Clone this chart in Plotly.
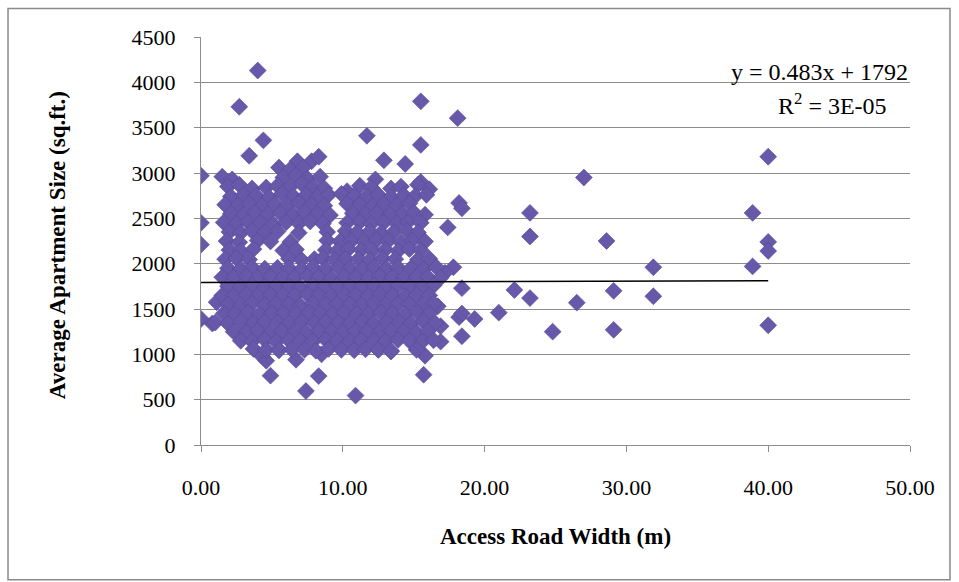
import plotly.graph_objects as go

# ---------------- data ----------------
road_width = [
    # high outliers
    4.0, 2.7, 15.5, 18.1, 4.4, 3.4, 11.7, 15.5, 12.9, 14.4, 5.5, 6.8, 7.8, 8.3,
    # x = 0 and far left
    0.0, 0.0, 0.0, 0.0, 1.1, 0.8,
    # far right
    40.0, 27.0, 23.2, 23.2, 38.9, 28.6, 40.0, 40.0, 38.9, 31.9,
    22.1, 23.2, 29.1, 31.9, 26.5, 21.0, 24.8, 29.1, 40.0,
    # right edge of the cluster
    18.2, 18.4, 17.4, 17.8, 17.2, 18.4, 19.3, 18.2, 18.4, 16.9, 16.7, 16.9, 18.4, 15.2,
    # low outliers
    4.9, 7.4, 8.3, 10.9, 15.7, 4.3, 6.7, 8.5, 10.6, 12.5, 13.4, 15.8, 4.6, 5.5,
    # dense cluster, by band
    6.3, 7.2,
    1.5, 2.2, 5.8, 6.7, 7.5, 8.4, 12.3, 15.5,
    1.9, 2.7, 3.6, 4.6, 5.4, 6.3, 7.1, 7.9, 8.7, 10.3, 11.2, 12.0, 13.4, 14.1, 15.3, 16.1,
    2.1, 3.0, 3.9, 4.8, 5.7, 6.5, 7.4, 8.2, 9.0, 9.9, 10.8, 11.7, 12.5, 13.4, 14.3, 15.1, 15.9,
    1.7, 2.6, 3.4, 4.3, 5.2, 6.1, 6.9, 7.8, 8.7, 10.3, 11.2, 12.1, 12.9, 13.8, 14.7,
    2.1, 3.0, 3.8, 4.7, 5.6, 6.5, 7.3, 8.2, 9.1, 10.7, 11.6, 12.4, 13.3, 14.2, 15.0, 15.8,
    1.6, 2.5, 3.3, 4.2, 5.1, 6.0, 6.9, 7.7, 8.6, 10.3, 11.2, 12.0, 12.9, 13.8, 14.6, 15.5,
    2.0, 2.8, 3.6, 4.5, 5.4, 6.9, 8.9, 10.2, 11.0, 11.9, 12.7, 13.6, 14.5, 15.3,
    1.8, 2.7, 4.0, 4.9, 6.3, 8.9, 9.8, 10.6, 11.5, 12.4, 13.2, 14.1, 14.9, 15.8,
    2.0, 2.8, 3.7, 5.8, 6.7, 8.8, 9.6, 10.4, 11.3, 12.1, 13.0, 13.9, 14.7, 15.5,
    1.7, 2.5, 3.4, 6.2, 7.1, 8.0, 8.6, 9.4, 10.2, 11.1, 11.9, 12.8, 13.7, 15.3, 16.1,
    1.9, 2.8, 3.6, 4.5, 5.4, 6.2, 7.1, 7.9, 8.8, 9.7, 10.5, 11.4, 12.2, 13.1, 13.9, 14.8, 15.7, 16.6,
    1.5, 2.3, 3.2, 4.0, 4.9, 5.8, 6.6, 7.5, 8.3, 9.2, 10.1, 10.9, 11.8, 12.6, 13.5, 14.3, 15.2, 16.0, 16.9,
    1.9, 2.8, 3.6, 4.5, 5.3, 6.2, 7.0, 7.9, 8.7, 9.6, 10.5, 11.3, 12.2, 13.0, 13.9, 14.7, 15.6, 16.4,
    1.5, 2.3, 3.2, 4.0, 4.9, 5.8, 6.6, 7.5, 8.3, 9.2, 10.1, 10.9, 11.8, 12.6, 13.5, 14.4, 15.2, 16.1,
    1.9, 2.8, 3.6, 4.5, 5.3, 6.2, 7.0, 7.9, 8.8, 9.6, 10.5, 11.3, 12.2, 13.0, 13.9, 14.7, 15.6, 16.4,
    1.6, 2.4, 3.3, 4.1, 5.0, 5.8, 6.7, 7.6, 8.4, 9.3, 10.1, 11.0, 11.8, 12.7, 13.5, 14.4, 15.3, 16.1,
    1.0, 1.9, 2.8, 3.7, 4.5, 5.4, 6.2, 7.1, 8.0, 8.8, 9.7, 10.5, 11.4, 12.2, 13.1, 14.0, 14.8, 15.7, 16.5,
    2.3, 3.2, 4.0, 4.9, 5.7, 6.6, 7.4, 8.3, 9.2, 10.0, 10.9, 11.7, 12.6, 13.4, 14.3, 15.2, 16.0,
    2.8, 3.6, 4.5, 5.3, 6.2, 7.0, 7.9, 8.8, 9.6, 10.5, 11.3, 12.2, 13.0, 13.9, 14.7, 15.6, 16.4,
    3.7, 4.6, 5.5, 6.4, 7.3, 8.1, 9.0, 9.9, 10.8, 11.6, 12.5, 13.4, 15.2,
]

apt_size = [
    4130, 3730, 3790, 3605, 3360, 3190, 3410, 3310, 3140, 3100, 3060, 3130, 3130, 3180,
    2970, 2450, 2210, 1390, 1575, 1340,
    3180, 2950, 2560, 2300, 2560, 2250, 2240, 2140, 1970, 1960,
    1710, 1620, 1700, 1640, 1570, 1460, 1250, 1270, 1320,
    2670, 2610, 2400, 1960, 1900, 1730, 1390, 1410, 1200, 1140, 1530, 1310, 1450, 1690,
    765, 595, 760, 545, 775, 980, 940, 1000, 1100, 1050, 1030, 985, 930, 1050,
    3040, 3060,
    2960, 2930, 2950, 2975, 2940, 2960, 2930, 2900,
    2850, 2870, 2830, 2840, 2860, 2850, 2880, 2845, 2830, 2800, 2860, 2840, 2830, 2850, 2870, 2820,
    2740, 2760, 2750, 2730, 2770, 2745, 2755, 2735, 2760, 2770, 2750, 2740, 2760, 2735, 2755, 2745, 2760,
    2650, 2640, 2660, 2635, 2655, 2645, 2670, 2650, 2640, 2660, 2650, 2635, 2655, 2645, 2665,
    2550, 2535, 2560, 2545, 2555, 2540, 2565, 2550, 2535, 2555, 2545, 2560, 2540, 2550, 2565, 2540,
    2455, 2440, 2460, 2450, 2435, 2455, 2445, 2465, 2440, 2450, 2460, 2440, 2455, 2445, 2460, 2450,
    2350, 2340, 2360, 2345, 2355, 2340, 2350, 2360, 2345, 2355, 2340, 2350, 2365, 2345,
    2250, 2235, 2255, 2245, 2240, 2255, 2245, 2250, 2240, 2260, 2250, 2235, 2255, 2245,
    2150, 2140, 2160, 2145, 2155, 2150, 2140, 2160, 2150, 2145, 2155, 2140, 2160, 2150,
    2050, 2060, 2045, 2055, 2040, 2050, 2060, 2045, 2055, 2050, 2040, 2060, 2050, 2045, 2055,
    1950, 1940, 1960, 1945, 1955, 1950, 1940, 1960, 1945, 1955, 1950, 1940, 1960, 1945, 1955, 1950, 1940, 1960,
    1850, 1845, 1860, 1840, 1855, 1850, 1845, 1860, 1850, 1840, 1855, 1850, 1845, 1860, 1850, 1840, 1855, 1850, 1845,
    1750, 1740, 1760, 1745, 1755, 1750, 1740, 1760, 1745, 1755, 1750, 1740, 1760, 1745, 1755, 1750, 1740, 1760,
    1650, 1645, 1660, 1640, 1655, 1650, 1645, 1660, 1650, 1640, 1655, 1650, 1645, 1660, 1650, 1640, 1655, 1650,
    1550, 1540, 1560, 1545, 1555, 1550, 1540, 1560, 1545, 1555, 1550, 1540, 1560, 1545, 1555, 1550, 1540, 1560,
    1450, 1445, 1460, 1440, 1455, 1450, 1445, 1460, 1450, 1440, 1455, 1450, 1445, 1460, 1450, 1440, 1455, 1450,
    1350, 1340, 1360, 1345, 1355, 1350, 1340, 1360, 1345, 1355, 1350, 1340, 1360, 1345, 1355, 1350, 1340, 1360, 1345,
    1250, 1245, 1260, 1240, 1255, 1250, 1245, 1260, 1250, 1240, 1255, 1250, 1245, 1260, 1250, 1240, 1255,
    1150, 1145, 1160, 1140, 1155, 1150, 1145, 1160, 1150, 1140, 1155, 1150, 1145, 1160, 1150, 1140, 1155,
    1060, 1050, 1045, 1055, 1050, 1040, 1060, 1050, 1045, 1055, 1050, 1040, 1050,
]

trend_slope = 0.483
trend_intercept = 1792
trend_x = [0.0, 40.0]

x_ticks = [0, 10, 20, 30, 40, 50]
y_ticks = [0, 500, 1000, 1500, 2000, 2500, 3000, 3500, 4000, 4500]

assert len(road_width) == len(apt_size), (len(road_width), len(apt_size))

# ---------------- figure ----------------
FONT = "Liberation Serif, Times New Roman, serif"
GRID = "#8c8c8c"
MARK = "rgb(104,88,170)"

fig = go.Figure()
fig.add_trace(go.Scatter(
    x=road_width, y=apt_size, mode="markers",
    marker=dict(symbol="diamond", size=13, color=MARK,
                line=dict(width=0.6, color="rgb(86,72,150)")),
    showlegend=False, hoverinfo="x+y",
))
fig.add_trace(go.Scatter(
    x=trend_x, y=[trend_slope * v + trend_intercept for v in trend_x],
    mode="lines", line=dict(color="black", width=1.5),
    showlegend=False, hoverinfo="skip",
))

fig.update_layout(
    width=959, height=582,
    margin=dict(l=201, r=49, t=37, b=137),
    paper_bgcolor="white", plot_bgcolor="white",
    font=dict(family=FONT, color="black", size=22),
    xaxis=dict(
        range=[0, 50], tickvals=x_ticks, tickformat=".2f",
        showgrid=False, zeroline=False,
        showline=True, linecolor=GRID, linewidth=1,
        ticks="outside", ticklen=6, tickcolor=GRID,
        tickfont=dict(family=FONT, size=22, color="black"),
        ticklabelstandoff=17,
    ),
    yaxis=dict(
        range=[0, 4500], tickvals=y_ticks,
        showgrid=True, gridcolor=GRID, gridwidth=1, zeroline=False,
        showline=True, linecolor=GRID, linewidth=1,
        ticks="outside", ticklen=6, tickcolor=GRID,
        tickfont=dict(family=FONT, size=22, color="black"),
        ticklabelstandoff=14,
    ),
    shapes=[dict(type="rect", xref="paper", yref="paper",
                 x0=-0.2722, x1=1.0564, y0=-0.330, y1=1.0696,
                 line=dict(color="#8a8a8a", width=1.5), layer="below")],
    annotations=[
        dict(text="<b>Average Apartment Size (sq.ft.)</b>", xref="paper", yref="paper",
             x=-0.203, y=0.49, textangle=-90, showarrow=False,
             font=dict(family=FONT, size=23, color="black"),
             xanchor="center", yanchor="middle"),
        dict(text="<b>Access Road Width (m)</b>", xref="paper", yref="paper",
             x=0.5007, y=-0.2245, showarrow=False,
             font=dict(family=FONT, size=23, color="black"),
             xanchor="center", yanchor="middle"),
        dict(text="y = 0.483x + 1792", xref="paper", yref="paper",
             x=0.873, y=0.913, showarrow=False,
             font=dict(family=FONT, size=24, color="black"),
             xanchor="center", yanchor="middle"),
        dict(text="R<sup>2</sup> = 3E-05", xref="paper", yref="paper",
             x=0.891, y=0.837, showarrow=False,
             font=dict(family=FONT, size=24, color="black"),
             xanchor="center", yanchor="middle"),
    ],
)

fig.write_html("out.html")
